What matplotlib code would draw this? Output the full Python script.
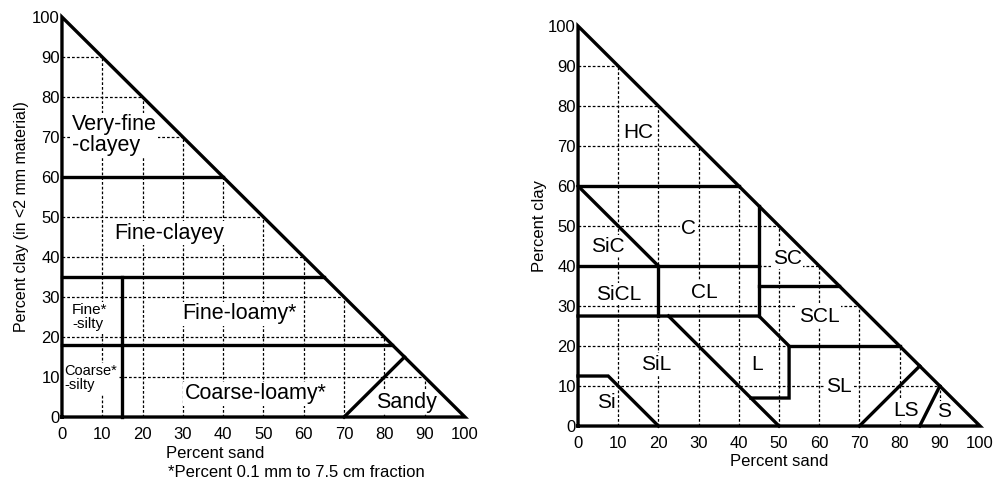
import matplotlib
matplotlib.use("Agg")
import matplotlib.pyplot as plt

plt.rcParams["font.family"] = ["Liberation Sans", "DejaVu Sans"]

TICKS = list(range(0, 101, 10))

# left chart: particle-size classes (sand %, clay %)
left_lines = [
    [(0, 0), (100, 0), (0, 100), (0, 0)],
    [(0, 60), (40, 60)],
    [(0, 35), (65, 35)],
    [(15, 0), (15, 35)],
    [(0, 18), (82, 18)],
    [(70, 0), (85, 15)],
]
left_names = ["Very-fine\n-clayey", "Fine-clayey", "Fine*\n-silty", "Coarse*\n-silty",
              "Fine-loamy*", "Coarse-loamy*", "Sandy"]
left_sand = [2.5, 26.5, 2.5, 0.5, 44, 48, 85.5]
left_clay = [70.5, 46, 25, 9.7, 25.8, 5.8, 3.6]
left_sizes = [15.5, 15.5, 11, 10.5, 15.5, 15.5, 15.5]

# right chart: texture classes
right_lines = [
    [(0, 0), (100, 0), (0, 100), (0, 0)],
    [(0, 60), (40, 60)],
    [(0, 60), (20, 40)],
    [(0, 40), (45, 40)],
    [(20, 40), (20, 27.5)],
    [(45, 55), (45, 27.5)],
    [(0, 27.5), (45, 27.5), (52.5, 20), (52.5, 7), (43, 7)],
    [(45, 35), (65, 35)],
    [(52.5, 20), (80, 20)],
    [(22.5, 27.5), (50, 0)],
    [(0, 12.5), (7.5, 12.5), (20, 0)],
    [(70, 0), (85, 15)],
    [(85, 0), (90, 10)],
]
right_names = ["HC", "C", "SiC", "SC", "SiCL", "CL", "SCL", "SiL", "L", "SL", "LS", "S", "Si"]
right_sand = [15, 27.5, 7.5, 52, 10, 31.5, 60, 19.5, 44.5, 65, 81.5, 91, 7]
right_clay = [73.5, 49.5, 45, 42, 33, 33.5, 27.5, 15.5, 15.5, 10, 4, 3.6, 5.8]
right_sizes = [15] * len(right_names)


def draw_triangle(ax, lines, names, sand, clay, sizes, left_aligned=()):
    for k in TICKS[1:-1]:
        ax.plot([0, 100 - k], [k, k], color="black", lw=0.9, ls=(0, (2.2, 1.6)), zorder=1)
        ax.plot([k, k], [0, 100 - k], color="black", lw=0.9, ls=(0, (2.2, 1.6)), zorder=1)
    for pts in lines:
        xs = [p[0] for p in pts]
        ys = [p[1] for p in pts]
        ax.plot(xs, ys, color="black", lw=2.4, solid_joinstyle="miter",
                solid_capstyle="projecting", clip_on=False, zorder=3)
    for name, x, y, fs in zip(names, sand, clay, sizes):
        ha = "left" if name in left_aligned else "center"
        ax.text(x, y, name, fontsize=fs, ha=ha, va="center", linespacing=1.0, zorder=2,
                bbox=dict(facecolor="white", edgecolor="none", pad=1.0))
    ax.set_xlim(0, 100)
    ax.set_ylim(0, 100)
    ax.set_xticks(TICKS)
    ax.set_yticks(TICKS)
    ax.tick_params(axis="x", length=0, labelsize=12, pad=7)
    ax.tick_params(axis="y", length=0, labelsize=12, pad=1.5)
    for s in ax.spines.values():
        s.set_visible(False)


fig = plt.figure(figsize=(9.98, 4.84), dpi=100)
ax1 = fig.add_axes([0.0621, 0.1384, 0.4038, 0.8264])
ax2 = fig.add_axes([0.5792, 0.1198, 0.4028, 0.8264])

draw_triangle(ax1, left_lines, left_names, left_sand, left_clay, left_sizes,
              left_aligned={"Very-fine\n-clayey", "Fine*\n-silty", "Coarse*\n-silty"})
draw_triangle(ax2, right_lines, right_names, right_sand, right_clay, right_sizes)

ax1.set_ylabel("Percent clay (in <2 mm material)", fontsize=11.5, labelpad=2)
ax1.text(25.8, -9, "Percent sand", fontsize=12, ha="left", va="center")
ax1.text(26.2, -13.8, "*Percent 0.1 mm to 7.5 cm fraction", fontsize=12, ha="left", va="center")
ax2.set_ylabel("Percent clay", fontsize=12, labelpad=1)
ax2.set_xlabel("Percent sand", fontsize=12, labelpad=2)

fig.savefig("out.png", dpi=100)
